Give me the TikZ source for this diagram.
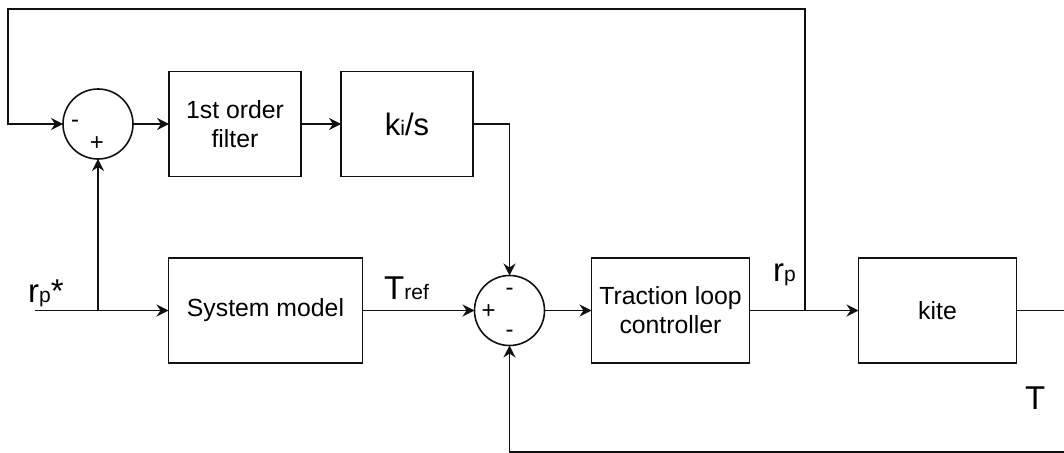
\documentclass[tikz,border=0pt]{standalone}
\usepackage{fontspec}
\setmainfont{Liberation Sans}
\usepackage{tikz}
\usetikzlibrary{arrows.meta,calc,positioning}
\definecolor{LoopInk}{HTML}{111111}
\newcommand{\bigtxt}{\fontsize{33}{36}\selectfont}
\newcommand{\subtxt}{\fontsize{21}{24}\selectfont}
\newcommand{\gaintxt}{\fontsize{31}{34}\selectfont}

\begin{document}
\begin{tikzpicture}[
    x=1pt,y=1pt,
    font=\fontsize{24.8}{29}\selectfont,
    block/.style={draw=LoopInk,line width=1.6pt,minimum width=158pt,minimum height=105pt,align=center,inner sep=0pt,outer sep=0pt},
    summer/.style={circle,draw=LoopInk,line width=1.6pt,minimum size=70pt,inner sep=0pt,outer sep=0pt},
    flow/.style={-{Stealth[length=12pt,width=12pt,inset=4pt]},line width=1.6pt,LoopInk},
    wire/.style={line width=1.6pt,LoopInk},
    sign/.style={font=\fontsize{24}{24}\selectfont,inner sep=0pt},
    lbl/.style={inner sep=0pt,anchor=base west}
  ]
    \useasboundingbox (0,0) rectangle (1064,-452);
    % upper branch
    \node[summer] (topsum) at (98,-124) {};
    \node[block,minimum width=132pt,right=36pt of topsum] (filter) {1st order\\filter};
    \node[block,minimum width=132pt,right=40pt of filter] (integ) {{\gaintxt k}{\subtxt i}{\gaintxt /s}};
    % main branch
    \node[block,minimum width=194pt] (model) at (265.5,-310.5) {System model};
    \node[summer,right=112pt of model] (botsum) {};
    \node[block,right=47pt of botsum] (ctrl) {Traction loop\\controller};
    \node[block,right=109pt of ctrl] (kite) {kite};

    \coordinate (input) at (35,-310.5);
    \coordinate (split) at (topsum |- model.west);
    \coordinate (tap) at (805,-310.5);
    \coordinate (fbleft) at (8,-9);
    \coordinate (fbout) at (1080,-452);

    \draw[wire] (input) -- (split);
    \draw[flow] (split) -- (model.west);
    \draw[flow] (split) -- (topsum.south);
    \draw[flow] (topsum.east) -- (filter.west);
    \draw[flow] (filter.east) -- (integ.west);
    \draw[flow] (integ.east) -| (botsum.north);
    \draw[flow] (model.east) -- (botsum.west);
    \draw[flow] (botsum.east) -- (ctrl.west);
    \draw[flow] (ctrl.east) -- (kite.west);
    \draw[flow] (tap) |- (fbleft) |- (topsum.west);
    \draw[flow] (kite.east) -| (fbout) -| (botsum.south);

    % signs
    \node[sign] (tminus) at ($(topsum)+(-23,0)$) {-};
    \node[sign] (tplus) at ($(topsum)+(-1,-20)$) {+};
    \node[sign] (bminus) at ($(botsum)+(0,19)$) {-};
    \node[sign] (bplus) at ($(botsum)+(-21,-1)$) {+};
    \node[sign] (bminusb) at ($(botsum)+(0,-23)$) {-};

    % signal labels
    \node[lbl] (rpstar) at (28,-302) {{\bigtxt r}{\subtxt p}{\bigtxt *}};
    \node[lbl] (tref) at (384,-299) {{\bigtxt T}{\subtxt ref}};
    \node[lbl] (rp) at (773,-281) {{\bigtxt r}{\subtxt p}};
    \node[lbl] (tout) at (1025,-409) {\bigtxt T};
  \end{tikzpicture}
\end{document}
